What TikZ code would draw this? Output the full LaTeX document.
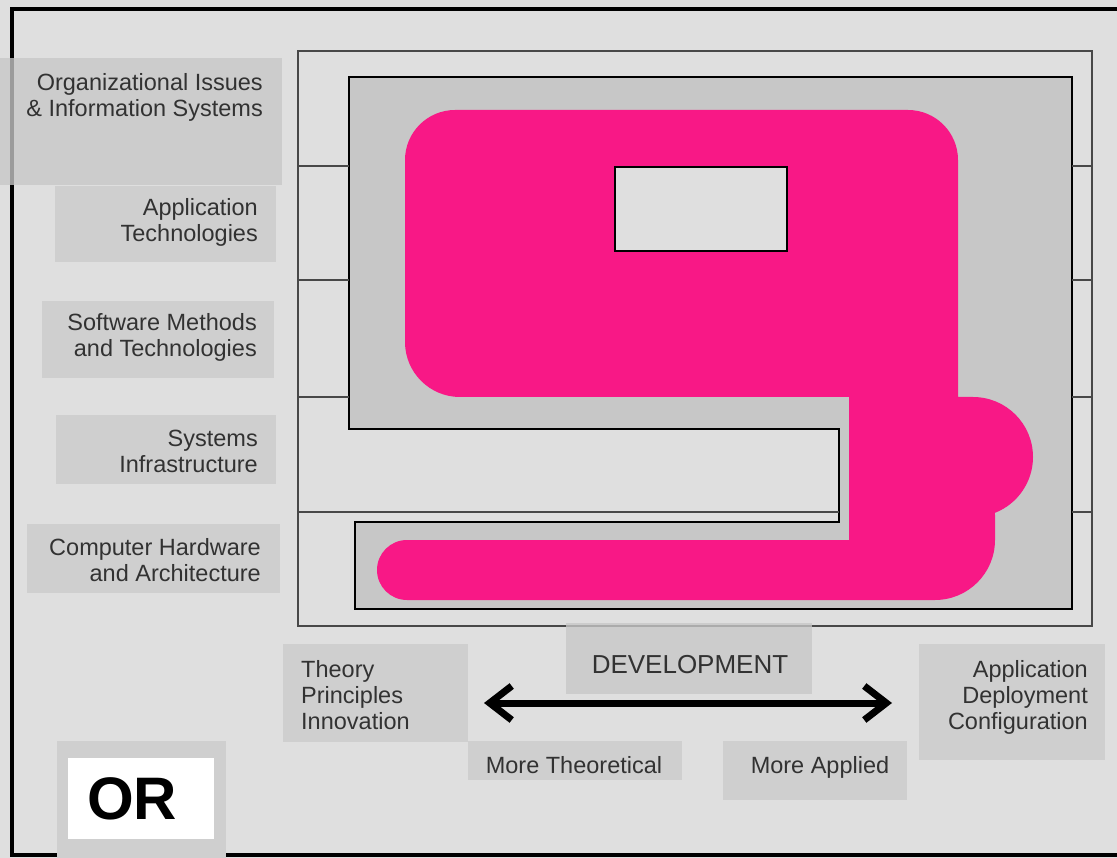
\documentclass[tikz,border=0pt]{standalone}
\usepackage{fontspec}
\setmainfont{Liberation Sans}
\usetikzlibrary{arrows.meta}

\definecolor{paper}{RGB}{223,223,223}
\definecolor{tag}{RGB}{207,207,207}
\definecolor{stipple}{RGB}{199,199,199}
\definecolor{magenta}{RGB}{248,24,134}
\definecolor{ink}{RGB}{50,50,50}
\definecolor{rule}{RGB}{72,72,72}

\tikzset{
  frame/.style={line width=4pt, black},
  bigbox/.style={line width=2pt, rule},
  outline/.style={line width=1.6pt, black},
  sepline/.style={line width=2pt, rule},
  tagbox/.style={fill=tag},
  tagbox over/.style={fill=tag!96!black, fill opacity=0.78},
  lbl/.style={inner sep=0pt, text=ink, font=\fontsize{23.5}{26}\selectfont},
  lblr/.style={lbl, align=right, anchor=east},
  lbll/.style={lbl, align=left, anchor=west},
  chev/.tip={Straight Barb[length=22pt,width=34pt]},
}

\begin{document}
\begin{tikzpicture}[x=1pt,y=-1pt]
\useasboundingbox (0,0) rectangle (1117,858);
\fill[paper] (0,0) rectangle (1117,858);

% outer frame (right side runs off the page)
\draw[frame] (1140,9.5) -- (12,9.5) -- (12,855) -- (1140,855);

% layered band box
\draw[bigbox] (298,51) rectangle (1092,626);

% stippled region behind the blob
\fill[stipple] (349,77) -- (1072,77) -- (1072,609) -- (355,609) -- (355,522)
  -- (839,522) -- (839,429) -- (349,429) -- cycle;

% the magenta blob
\fill[magenta] (455,110) -- (908,110) arc[start angle=-90,end angle=0,radius=50]
  -- (958,397) -- (973,397) arc[start angle=-90,end angle=68.5,radius=60]
  -- (995,540) arc[start angle=0,end angle=90,radius=60]
  -- (407,600) arc[start angle=90,end angle=270,radius=30]
  -- (849,540) -- (849,397) -- (460,397) arc[start angle=90,end angle=180,radius=55]
  -- (405,160) arc[start angle=180,end angle=270,radius=50] -- cycle;

\draw[outline] (349,77) -- (1072,77) -- (1072,609) -- (355,609) -- (355,522)
  -- (839,522) -- (839,429) -- (349,429) -- cycle;

% hole in the blob
\draw[outline, fill=paper] (615,167) rectangle (787,251);

% band separators
\foreach \y in {166,280,397} \draw[sepline] (298,\y) -- (349,\y);
\draw[sepline] (298,512) -- (839,512);
\foreach \y in {166,280,397,512} \draw[sepline] (1072,\y) -- (1092,\y);

% band labels
\fill[tagbox over] (0,58) rectangle (282,185);
\fill[tagbox] (55,186) rectangle (276,262);
\fill[tagbox] (42,301) rectangle (274,378);
\fill[tagbox] (56,415) rectangle (276,484);
\fill[tagbox] (27,524) rectangle (280,593);

\node[lblr] (orgis) at (263,97) {Organizational Issues\\\& Information Systems};
\node[lblr] (apptech) at (258,222) {Application\\Technologies};
\node[lblr] (swmeth) at (257,337) {Software Methods\\and Technologies};
\node[lblr] (sysinf) at (258,451) {Systems\\Infrastructure};
\node[lblr] (hwarch) at (261,560) {Computer Hardware\\and Architecture};

% scale below the bands
\fill[tagbox] (283,644) rectangle (468,742);
\fill[tagbox over] (566,623) rectangle (812,694);
\fill[tagbox] (468,741) rectangle (682,780);
\fill[tagbox] (723,741) rectangle (907,800);
\fill[tagbox] (919,644) rectangle (1105,760);

\node[lbll] (theory) at (301,695) {Theory\\Principles\\Innovation};
\node[lbl, anchor=base, font=\fontsize{26}{30}\selectfont] (devel) at (690,673) {DEVELOPMENT};
\node[lbl, anchor=base] (moretheo) at (574,773) {More Theoretical};
\node[lbl, anchor=base] (moreappl) at (820,773) {More Applied};
\node[lblr] (applic) at (1088,697) {Application\\Deployment\\Configuration};

\coordinate (scaleL) at (484,703);
\coordinate (scaleR) at (892,703);
\draw[line width=7pt, black, chev-chev] (scaleL) -- (scaleR);

% OR badge
\fill[tagbox] (57,741) rectangle (226,858);
\fill[white] (68,758) rectangle (214,839);
\node[inner sep=0pt, anchor=base, font=\fontsize{60}{60}\selectfont\bfseries] (orlabel) at (132,819) {OR};
\end{tikzpicture}
\end{document}
